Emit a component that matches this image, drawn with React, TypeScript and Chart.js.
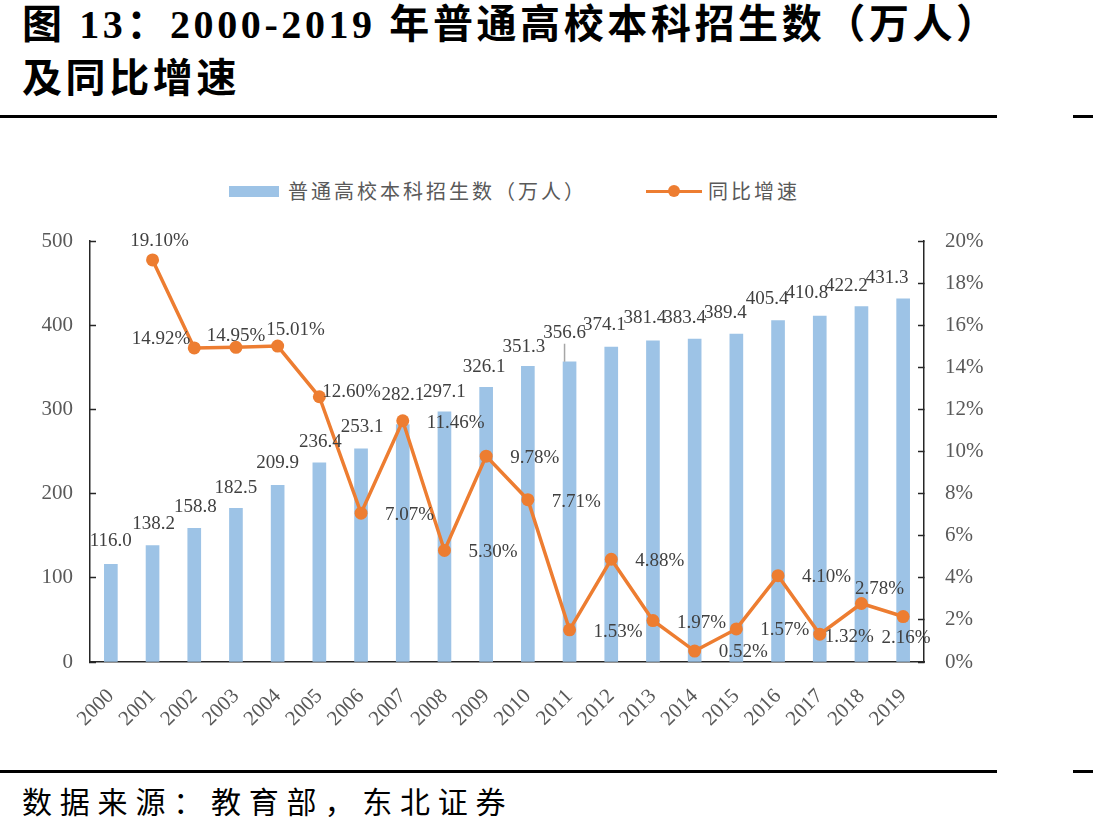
import React, { useEffect, useRef } from "react";
import { Chart, registerables } from "chart.js";

Chart.register(...registerables);

// ---- data ----
const years = ["2000", "2001", "2002", "2003", "2004", "2005", "2006", "2007", "2008", "2009", "2010", "2011", "2012", "2013", "2014", "2015", "2016", "2017", "2018", "2019"];
const enrollment = [116.0, 138.2, 158.8, 182.5, 209.9, 236.4, 253.1, 282.1, 297.1, 326.1, 351.3, 356.6, 374.1, 381.4, 383.4, 389.4, 405.4, 410.8, 422.2, 431.3];
const growth = [null, 19.10, 14.92, 14.95, 15.01, 12.60, 7.07, 11.46, 5.30, 9.78, 7.71, 1.53, 4.88, 1.97, 0.52, 1.57, 4.10, 1.32, 2.78, 2.16];
const barSeriesName = "普通高校本科招生数（万人）";
const lineSeriesName = "同比增速";
const titleLine1 = "图 13：2000-2019 年普通高校本科招生数（万人）";
const titleLine2 = "及同比增速";
const sourceText = "数据来源：教育部，东北证券";

// ---- label placement (style only) ----
const barLabelDx = [0, 1, 1, 0, 0, 1, 1, 0, 0, -2, -4, -5, -7, -8, -10, -11, -11, -13, -15, -16];
const barLabelLift = [23, 22, 21, 20, 22, 21, 22, 29, 20, 20, 19, 29, 22, 23, 21, 21, 22, 23, 20, 21];
const leaderIndex = 11;
const growthLabelPos: [CanvasTextAlign, number, number][] = [
  ["center", 0, 0],
  ["center", 7, -19],
  ["right", -4, -9],
  ["center", 0, -11],
  ["center", 18, -16],
  ["left", 3, -5],
  ["left", 24, 2],
  ["left", 24, 2],
  ["left", 24, 2],
  ["left", 24, 2],
  ["left", 24, 2],
  ["left", 24, 2],
  ["left", 24, 2],
  ["left", 24, 2],
  ["left", 24, 1],
  ["left", 24, 1],
  ["left", 24, 1],
  ["left", 5, 3],
  ["center", 18, -14],
  ["center", 3, 21],
];

const BLUE = "#9DC3E6";
const ORANGE = "#ED7D31";
const SERIF = '"Liberation Serif", "Times New Roman", serif';
const CJK = '"Noto Sans CJK SC", sans-serif';

const labelPlugin = {
  id: "valueLabels",
  afterDatasetsDraw(chart: any) {
    const ctx = chart.ctx;
    const lineMeta = chart.getDatasetMeta(0);
    const barMeta = chart.getDatasetMeta(1);
    ctx.save();
    ctx.font = `19px ${SERIF}`;
    ctx.fillStyle = "#404040";
    ctx.textBaseline = "middle";
    barMeta.data.forEach((el: any, i: number) => {
      const x = el.x + barLabelDx[i];
      const y = el.y - barLabelLift[i];
      ctx.textAlign = "center";
      ctx.fillText(enrollment[i].toFixed(1), x, y);
      if (i === leaderIndex) {
        ctx.save();
        ctx.strokeStyle = "#A6A6A6";
        ctx.lineWidth = 1.5;
        ctx.beginPath();
        ctx.moveTo(x, y + 11);
        ctx.lineTo(x, el.y);
        ctx.stroke();
        ctx.restore();
      }
    });
    lineMeta.data.forEach((el: any, i: number) => {
      const v = growth[i];
      if (v == null) return;
      const [align, dx, dy] = growthLabelPos[i];
      ctx.textAlign = align;
      ctx.fillText(v.toFixed(2) + "%", el.x + dx, el.y + dy);
    });
    ctx.restore();
  },
};

function ChartCanvas() {
  const ref = useRef<HTMLCanvasElement>(null);
  useEffect(() => {
    if (!ref.current) return;
    const chart = new Chart(ref.current, {
      type: "bar",
      data: {
        labels: years,
        datasets: [
          {
            type: "line",
            label: lineSeriesName,
            data: growth as any,
            yAxisID: "y1",
            borderColor: ORANGE,
            backgroundColor: ORANGE,
            borderWidth: 3.5,
            pointRadius: 6.5,
            pointHoverRadius: 6.5,
            pointBackgroundColor: ORANGE,
            pointBorderWidth: 0,
            tension: 0,
            order: 0,
          } as any,
          {
            type: "bar",
            label: barSeriesName,
            data: enrollment,
            yAxisID: "y",
            backgroundColor: BLUE,
            barThickness: 13,
            order: 1,
          },
        ],
      },
      options: {
        responsive: false,
        animation: false,
        events: [],
        layout: { padding: { top: 101, left: 0, right: 0, bottom: 0 } },
        plugins: {
          legend: { display: false },
          tooltip: { enabled: false },
          title: { display: false },
        },
        scales: {
          x: {
            grid: { display: false },
            border: { display: true, color: "#262626", width: 1.5 },
            ticks: {
              autoSkip: false,
              minRotation: 45,
              maxRotation: 45,
              padding: 14,
              color: "#595959",
              font: { family: SERIF, size: 21 },
            },
            afterFit: (s: any) => {
              s.height = 98;
            },
          },
          y: {
            position: "left",
            min: 0,
            max: 500,
            grid: {
              display: true,
              drawOnChartArea: false,
              drawTicks: true,
              tickLength: -6,
              tickColor: "#262626",
              tickWidth: 1.5,
            },
            border: { display: true, color: "#262626", width: 1.5 },
            ticks: {
              stepSize: 100,
              padding: 23,
              color: "#595959",
              font: { family: SERIF, size: 21 },
            },
            afterFit: (s: any) => {
              s.width = 90;
            },
          },
          y1: {
            position: "right",
            min: 0,
            max: 20,
            grid: {
              display: true,
              drawOnChartArea: false,
              drawTicks: true,
              tickLength: -6,
              tickColor: "#262626",
              tickWidth: 1.5,
            },
            border: { display: true, color: "#262626", width: 1.5 },
            ticks: {
              stepSize: 2,
              padding: 27,
              color: "#595959",
              font: { family: SERIF, size: 21 },
              callback: (v: any) => v + "%",
            },
            afterFit: (s: any) => {
              s.width = 169;
            },
          },
        },
      },
      plugins: [labelPlugin],
    });
    return () => chart.destroy();
  }, []);
  return (
    <canvas
      ref={ref}
      width={1093}
      height={620}
      style={{ position: "absolute", left: 0, top: 140, width: 1093, height: 620, display: "block" }}
    />
  );
}

export default function App() {
  return (
    <div style={{ position: "absolute", left: 0, top: 0, width: 1093, height: 840, background: "#fff", overflow: "hidden" }}>
      <div
        style={{
          position: "absolute",
          left: 22,
          top: -2,
          fontFamily: `"Liberation Serif", ${CJK}`,
          fontWeight: "bold",
          fontSize: 40,
          lineHeight: "54px",
          letterSpacing: 3.6,
          whiteSpace: "nowrap",
          color: "#000",
        }}
      >
        {titleLine1}
        <br />
        {titleLine2}
      </div>
      <div style={{ position: "absolute", left: 0, top: 115, width: 997, height: 2.5, background: "#000" }} />
      <div style={{ position: "absolute", left: 1073, top: 115, width: 20, height: 2.5, background: "#000" }} />

      {/* legend */}
      <div style={{ position: "absolute", left: 229, top: 186, width: 50, height: 11, background: BLUE }} />
      <div
        style={{
          position: "absolute",
          left: 288,
          top: 176,
          height: 30,
          lineHeight: "30px",
          fontFamily: CJK,
          fontSize: 20,
          letterSpacing: 3,
          color: "#595959",
          whiteSpace: "nowrap",
        }}
      >
        {barSeriesName}
      </div>
      <div style={{ position: "absolute", left: 646, top: 189.5, width: 56, height: 3.5, background: ORANGE }} />
      <div style={{ position: "absolute", left: 668, top: 185, width: 12, height: 12, borderRadius: 6, background: ORANGE }} />
      <div
        style={{
          position: "absolute",
          left: 708,
          top: 176,
          height: 30,
          lineHeight: "30px",
          fontFamily: CJK,
          fontSize: 20,
          letterSpacing: 3,
          color: "#595959",
          whiteSpace: "nowrap",
        }}
      >
        {lineSeriesName}
      </div>

      <ChartCanvas />

      <div style={{ position: "absolute", left: 0, top: 770, width: 997, height: 2.5, background: "#000" }} />
      <div style={{ position: "absolute", left: 1073, top: 770, width: 20, height: 2.5, background: "#000" }} />
      <div
        style={{
          position: "absolute",
          left: 22,
          top: 782,
          lineHeight: "36px",
          fontFamily: CJK,
          fontSize: 30,
          letterSpacing: 7.8,
          color: "#000",
          whiteSpace: "nowrap",
        }}
      >
        {sourceText}
      </div>
    </div>
  );
}
